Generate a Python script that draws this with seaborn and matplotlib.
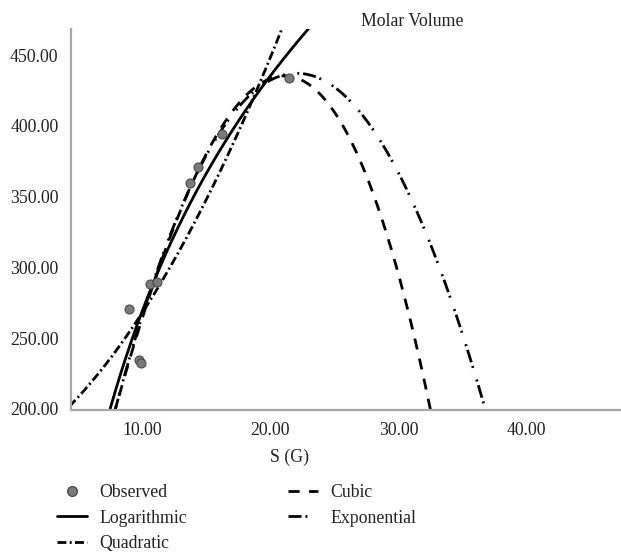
import numpy as np
import pandas as pd
import matplotlib
matplotlib.use("Agg")
import matplotlib.pyplot as plt
from matplotlib.lines import Line2D
import seaborn as sns

# Observed data (S (G) vs Molar Volume)
obs_x = [8.98, 9.77, 9.88, 10.62, 11.12, 13.72, 14.32, 16.25, 21.47]
obs_y = [270.9, 234.5, 232.6, 288.5, 289.6, 359.3, 370.6, 394.1, 433.5]

# Fitted model coefficients
log_coef = [-282.7, 239.7]                          # a + b*ln(x)
quad_coef = [169.2, 5.793, 0.4084]                  # a + b x + c x^2
cubic_coef = [-100.70, 42.524, -0.41671, -0.018712]  # a + b x + c x^2 + d x^3
expo_coef = [-149.98, 54.690, -1.33880, 0.002993]   # curve drawn with exponential style

x_ticks = [10, 20, 30, 40]
y_ticks = [200, 250, 300, 350, 400, 450]

sns.set_theme(style="white")
plt.rcParams["font.family"] = ["Liberation Serif", "DejaVu Serif"]

fig = plt.figure(figsize=(6.21, 5.54), dpi=100)
ax = fig.add_axes([71/621, 1-409.7/554, (620-71)/621, (409.7-29)/554])

xg = np.linspace(4.3, 47.5, 800)
def poly(c, x):
    return sum(ci * x**i for i, ci in enumerate(c))

curves = {
    "Logarithmic": log_coef[0] + log_coef[1]*np.log(xg),
    "Quadratic": poly(quad_coef, xg),
    "Cubic": poly(cubic_coef, xg),
    "Exponential": poly(expo_coef, xg),
}
styles = {
    "Logarithmic": "-",
    "Quadratic": (0, (3.2, 1.2, 0.7, 1.2)),
    "Cubic": (0, (4.0, 3.4)),
    "Exponential": (0, (4.7, 1.4, 0.7, 4.4, 0.7, 1.4)),
}
lw = 2.0
for name in ["Exponential", "Cubic", "Quadratic", "Logarithmic"]:
    df = pd.DataFrame({"x": xg, "y": curves[name]})
    sns.lineplot(data=df, x="x", y="y", ax=ax, color="black", lw=lw,
                 linestyle=styles[name], sort=False, estimator=None)

sns.scatterplot(x=obs_x, y=obs_y, ax=ax, s=42, color="#7a7a7a",
                edgecolor="#4a4a4a", linewidth=0.8, zorder=5)

ax.set_xlim(4.435, 47.28)
ax.set_ylim(199.4, 468.4)
ax.set_xticks(x_ticks)
ax.set_yticks(y_ticks)
ax.set_xticklabels([f"{v:.2f}" for v in x_ticks])
ax.set_yticklabels([f"{v:.2f}" for v in y_ticks])
ax.tick_params(axis="both", length=0, labelsize=12.8, colors="#222222")
ax.tick_params(axis="y", pad=9)
ax.tick_params(axis="x", pad=9)
ax.set_xlabel("")
ax.set_ylabel("")
for s in ["top", "right"]:
    ax.spines[s].set_visible(False)
for s in ["left", "bottom"]:
    ax.spines[s].set_color("#a8a8a8")
    ax.spines[s].set_linewidth(1.6)
ax.grid(False)

fig.text(412/621, 1-21/554, "Molar Volume", ha="center", va="center",
         fontsize=12.8, color="#222222")
fig.text(290/621, 1-457/554, "S (G)", ha="center", va="center",
         fontsize=12.8, color="#222222")

handles = [
    Line2D([], [], marker="o", linestyle="none", markersize=7,
           markerfacecolor="#7a7a7a", markeredgecolor="#4a4a4a"),
    Line2D([], [], color="black", lw=lw, linestyle=styles["Logarithmic"]),
    Line2D([], [], color="black", lw=lw, linestyle=styles["Quadratic"]),
    Line2D([], [], color="black", lw=lw, linestyle=styles["Cubic"]),
    Line2D([], [], color="black", lw=lw, linestyle=styles["Exponential"]),
]
labels = ["Observed", "Logarithmic", "Quadratic", "Cubic", "Exponential"]
fig.legend(handles, labels, ncol=2, loc="upper left",
           bbox_to_anchor=(57/621, 1-484/554), frameon=False,
           fontsize=12.8, handlelength=1.7, handletextpad=0.7,
           columnspacing=5.65, labelspacing=0.48, borderpad=0,
           borderaxespad=0, labelcolor="#222222")

fig.savefig("out.png", dpi=100)
